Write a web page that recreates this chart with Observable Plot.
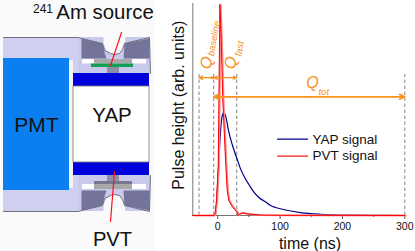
<!DOCTYPE html>
<html><head><meta charset="utf-8">
<script src="https://cdn.jsdelivr.net/npm/d3@7"></script>
<script src="https://cdn.jsdelivr.net/npm/@observablehq/plot@0.6"></script>
<style>
html,body{margin:0;padding:0;background:#fff}
#wrap{position:relative;width:415px;height:251px;overflow:hidden;font-family:"Liberation Sans",Arial,sans-serif}
#wrap svg{position:absolute;left:0;top:0;background:transparent;font-family:"Liberation Sans",Arial,sans-serif}
#wrap svg.s{filter:blur(0.35px)}
</style></head><body><div id="wrap"></div>
<script>
// ---- pulse data: [time ns, height arb.]
const yapSignal=[[-40,0],[-6,0],[-3.5,1],[1.8,26],[4.5,40],[7.7,47.6],[10,48.6],[13.6,45.8],[17.3,40],[23.7,33],[31.8,26],[36.6,22],[43,18],[50,14.6],[57.4,11.3],[66,8.5],[76.7,6.4],[84.7,4.7],[92.7,3.8],[108.7,2.6],[132.8,1.4],[165,0.6],[200,0.2],[250,0.1],[300,0]];
const pvtSignal=[[-40,0],[-6,0],[-4.6,0.5],[-2,7],[0.8,23.6],[3.4,99.5],[5.6,82.5],[8.2,54],[12.5,26],[15.2,11.8],[17.8,7],[23.3,4.2],[31.3,1.4],[32.9,0],[35,0.7],[39.3,1.2],[49.4,0.7],[68.6,0.2],[100,0.1],[300,0]];
const xTicks=[0,100,200,300];
const xMinor=[50,150,250];
const gates=[-30,-6.5,30.5,300];
const legendNames=["YAP signal","PVT signal"];
const legendColors=["#00008b","#ff1a1a"];
const orange="#f7931e";

// ---- detector schematic, drawing units
const boxes=[
 {x1:0,x2:155,y1:0,y2:251,c:"#fafafa"},
 {x1:3,x2:78,y1:37,y2:211,c:"#cfcff0"},
 {x1:78,x2:150,y1:37,y2:73,c:"#c9c9ec"},
 {x1:78,x2:150,y1:175,y2:211,c:"#c9c9ec"},
 {x1:3,x2:69,y1:58,y2:190,c:"#0b7ff0"},
 {x1:69,x2:73,y1:60,y2:188,c:"#f4f4f4"},
 {x1:73,x2:149,y1:86,y2:162,c:"#ffffff"},
 {x1:73,x2:149,y1:73,y2:86,c:"#0000dc"},
 {x1:73,x2:149,y1:162,y2:175,c:"#0000dc"},
 {x1:82,x2:146,y1:59,y2:63.5,c:"#ffffff"},
 {x1:94,x2:132,y1:59,y2:63.5,c:"#a8a8a8"},
 {x1:91,x2:133,y1:63.5,y2:67,c:"#0f9f55"},
 {x1:107,x2:119,y1:67,y2:73,c:"#8e8ea6"},
 {x1:107,x2:119,y1:175,y2:181,c:"#8e8ea6"},
 {x1:82,x2:146,y1:184,y2:189,c:"#ffffff"},
 {x1:94,x2:132,y1:184,y2:189,c:"#a8a8a8"},
 {x1:94,x2:132,y1:181,y2:184,c:"#77778f"}
];
const darkA=[[81,38],[102,43],[104,52],[106,58],[81,58]];
const darkB=[[124,43],[149,38],[149,58],[123,58]];
const darkC=[[81,210],[102,205],[104,196],[106,190],[81,190]];
const darkD=[[124,205],[149,210],[149,190],[123,190]];
const notchTop=[[103,36],[103,43],[106,50],[110,53],[114,54],[119,53],[122,49],[124,43],[125,36]];
const notchBot=[[103,212],[103,205],[106,198],[110,195],[114,194],[119,195],[122,199],[124,205],[125,212]];
const outlineTop=[[3,37],[78,37],[81,38],[102,43],[104,50],[110,53],[114,54],[119,53],[122,49],[124,43],[149,37],[150,73]];
const outlineBot=[[3,211],[78,211],[81,210],[102,205],[104,198],[110,195],[114,194],[119,195],[122,199],[124,205],[149,211],[150,175]];
const pointerTop=[[121,32],[110,65]];
const pointerBot=[[114,171],[110,221]];

const P=(a,o)=>Plot.line(a,{x:d=>d[0],y:d=>d[1],...o});
const schematic=Plot.plot({
 width:415,height:251,margin:0,
 x:{domain:[0,415],range:[0,415],axis:null},
 y:{domain:[0,251],range:[0,251],axis:null},
 marks:[
  Plot.rect(boxes,{x1:"x1",x2:"x2",y1:"y1",y2:"y2",fill:"c"}),
  ...[darkA,darkB,darkC,darkD].map(a=>P(a,{fill:"#74749a",stroke:"none"})),
  ...[notchTop,notchBot].map(a=>P(a,{fill:"#fafafa",stroke:"none"})),
  ...[outlineTop,outlineBot].map(a=>P(a,{stroke:"#6f6f80",strokeWidth:1})),
  Plot.rect([{x1:73,x2:149,y1:86,y2:162}],{x1:"x1",x2:"x2",y1:"y1",y2:"y2",fill:"none",stroke:"#777",strokeWidth:0.8}),
  P(pointerTop,{stroke:"#ff1020",strokeWidth:1.2}),
  P(pointerBot,{stroke:"#ff1020",strokeWidth:1.2})
 ]
});
schematic.classList.add("s");

const T=(t,x,y,o)=>Plot.text([t],{x:()=>x,y:()=>y,text:d=>d,fill:"#111",...o});
const labels=Plot.plot({
 width:415,height:251,margin:0,
 x:{domain:[0,415],range:[0,415],axis:null},
 y:{domain:[0,251],range:[0,251],axis:null},
 marks:[
  T("241",42.5,8.5,{fontSize:12}),
  T("Am source",104.5,11.5,{fontSize:20.4}),
  T("PMT",36,125,{fontSize:21}),
  T("YAP",111.5,115,{fontSize:20.5}),
  T("PVT",112,239,{fontSize:20.2})
 ]
});

const A=(x1,x2,y,w)=>Plot.arrow([0],{x1:()=>x1,x2:()=>x2,y1:()=>y,y2:()=>y,stroke:orange,strokeWidth:w,headLength:5,headAngle:50,bend:0});
const chart=Plot.plot({
 width:415,height:251,
 marginLeft:192.3,marginRight:10.7,marginTop:3,marginBottom:36,
 x:{domain:[-40,300],axis:null},
 y:{domain:[0,100],axis:null},
 marks:[
  Plot.ruleX([-40],{stroke:"#777",strokeWidth:1}),
  Plot.ruleY([0],{stroke:"#777",strokeWidth:1}),
  Plot.ruleX(gates,{y1:0,y2:66.5,stroke:"#666",strokeWidth:0.8,strokeDasharray:"3.5,2.5"}),
  Plot.axisX({ticks:xTicks,tickSize:4,label:null,fontSize:10.5,tickPadding:3,color:"#111",stroke:"#555"}),
  Plot.axisX({ticks:xMinor,tickSize:2,tickFormat:()=>"",label:null,stroke:"#555"}),
  Plot.line(yapSignal,{x:d=>d[0],y:d=>d[1],stroke:legendColors[0],strokeWidth:1.2,curve:"monotone-x"}),
  Plot.line(pvtSignal,{x:d=>d[0],y:d=>d[1],stroke:"#ff8a8a",strokeWidth:1.8,dx:0.8}),
  Plot.line(pvtSignal,{x:d=>d[0],y:d=>d[1],stroke:"#ff0000",strokeWidth:1}),
  A(6,-30,65,1.2),A(-18,-6.5,65,1.2),A(12,-6.5,65,1.2),A(12,30.5,65,1.2),
  A(150,-6.5,56,1.7),A(150,300,56,1.7),
  // gate labels
  Plot.text(["Q"],{x:()=>-18,y:()=>72,text:d=>d,fill:orange,fontSize:16,fontStyle:"italic",rotate:-80}),
  Plot.text(["baseline"],{x:()=>-6,y:()=>83.5,text:d=>d,fill:orange,fontSize:9.5,fontStyle:"italic",rotate:-80}),
  Plot.text(["Q"],{x:()=>21,y:()=>72,text:d=>d,fill:orange,fontSize:16,fontStyle:"italic",rotate:-80}),
  Plot.text(["fast"],{x:()=>35,y:()=>78.7,text:d=>d,fill:orange,fontSize:9.5,fontStyle:"italic",rotate:-80}),
  Plot.text(["Q"],{x:()=>152,y:()=>62.5,text:d=>d,fill:orange,fontSize:16,fontStyle:"italic"}),
  Plot.text(["tot"],{x:()=>170,y:()=>58.3,text:d=>d,fill:orange,fontSize:9.5,fontStyle:"italic"}),
  // legend
  ...legendNames.flatMap((n,i)=>{
    const y=i?28:36;
    return [
      Plot.line([[96,y],[144,y]],{x:d=>d[0],y:d=>d[1],stroke:legendColors[i],strokeWidth:1.2}),
      Plot.text([n],{x:()=>152,y:()=>y,text:d=>d,textAnchor:"start",fontSize:13.5,fill:"#111"})
    ];
  }),
  // axis titles
  Plot.text(["Pulse height (arb. units)"],{x:()=>-40,y:()=>52,dx:-14,text:d=>d,rotate:-90,fontSize:16,fill:"#111"}),
  Plot.text(["time (ns)"],{x:()=>148,y:()=>0,dy:28,text:d=>d,fontSize:16,fill:"#111"})
 ]
});
const w=document.getElementById("wrap");
w.append(schematic,labels,chart);
</script></body></html>
